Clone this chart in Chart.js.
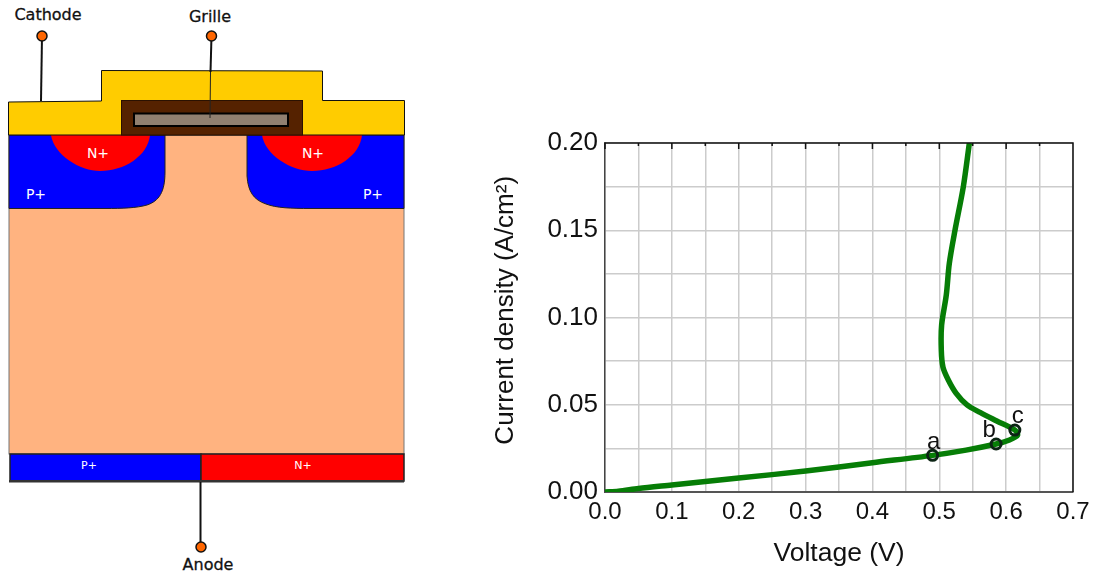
<!DOCTYPE html>
<html>
<head>
<meta charset="utf-8">
<title>Courbe courant-tension</title>
<script src="https://cdn.jsdelivr.net/npm/chart.js@4"></script>
<style>
    html, body { margin: 0; padding: 0; background: #fff; overflow: hidden; }
    #device, #chart1 { position: absolute; left: 0; top: 0; }
    #device text { font-family: "DejaVu Sans", sans-serif; }
</style>
</head>
<body>
<!-- coupe du composant, a gauche -->
<svg id="device" width="1096" height="576" viewBox="0 0 1096 576">
    <rect x="9" y="135" width="395" height="319" fill="#ffb380" stroke="#777" stroke-width="1"/>
    <path d="M9,135 L165,135 L165,172 C165,192 159,201 147,205 C137,208 122,208.5 105,208.5 L9,208.5 Z" fill="#0000ff" stroke="#222" stroke-width="1"/>
    <path d="M404,135 L247,135 L247,176 C248,192 254,200 266,204 C276,208 292,208.5 310,208.5 L404,208.5 Z" fill="#0000ff" stroke="#222" stroke-width="1"/>
    <path d="M51,135 C54,155 80,171 100,171 C124,171 148,156 150,135 Z" fill="#ff0000"/>
    <path d="M262,135 C265,155 291,171 312,171 C336,171 360,156 362,135 Z" fill="#ff0000"/>
    <path d="M8.5,102 L101.5,101 L101.5,70.5 L322.5,71 L322.5,100.5 L404.5,100.5 L404.5,135 L8.5,135 Z" fill="#ffcc00" stroke="#111" stroke-width="1"/>
    <rect x="121.5" y="100.5" width="181" height="34.5" fill="#552200" stroke="#2b1100" stroke-width="1"/>
    <rect x="134" y="113.5" width="154" height="12.5" fill="#918070" stroke="#000" stroke-width="2"/>

    <rect x="10" y="454" width="191" height="27" fill="#0000ff" stroke="#222" stroke-width="1.5"/>
    <rect x="201" y="454" width="203" height="27" fill="#ff0000" stroke="#222" stroke-width="1.5"/>
    <rect x="9" y="480" width="395" height="2.5" fill="#333"/>

    <line x1="42" y1="36" x2="41" y2="101" stroke="#111" stroke-width="2"/>
    <line x1="211.5" y1="36" x2="210.5" y2="72" stroke="#111" stroke-width="2"/>
    <line x1="210.5" y1="72" x2="210" y2="118" stroke="#222" stroke-width="1"/>
    <line x1="200.5" y1="482" x2="200.5" y2="547" stroke="#111" stroke-width="2"/>
    <circle cx="42" cy="36" r="5" fill="#ff6600" stroke="#111" stroke-width="1.5"/>
    <circle cx="211.5" cy="36" r="5" fill="#ff6600" stroke="#111" stroke-width="1.5"/>
    <circle cx="201" cy="547" r="5" fill="#ff6600" stroke="#111" stroke-width="1.5"/>

    <text x="48" y="20" font-size="16" text-anchor="middle" fill="#111" stroke="#111" stroke-width="0.3">Cathode</text>
    <text x="210" y="22" font-size="16" text-anchor="middle" fill="#111" stroke="#111" stroke-width="0.3">Grille</text>
    <text x="208" y="570" font-size="16" text-anchor="middle" fill="#111" stroke="#111" stroke-width="0.3">Anode</text>
    <text x="98" y="158" font-size="14" text-anchor="middle" fill="#fff">N+</text>
    <text x="313" y="158" font-size="14" text-anchor="middle" fill="#fff">N+</text>
    <text x="36" y="199" font-size="14" text-anchor="middle" fill="#fff">P+</text>
    <text x="373" y="199" font-size="14" text-anchor="middle" fill="#fff">P+</text>
    <text x="89" y="469" font-size="11" text-anchor="middle" fill="#fff">P+</text>
    <text x="303" y="469" font-size="11" text-anchor="middle" fill="#fff">N+</text>
</svg>

<canvas id="chart1" width="1096" height="576"></canvas>

<script>
const voltage = [0, 0.02, 0.05, 0.1, 0.2, 0.3, 0.4, 0.49, 0.54, 0.585, 0.605, 0.617, 0.613, 0.586, 0.561, 0.5415, 0.525, 0.5135, 0.5055, 0.503, 0.5035, 0.5105, 0.515, 0.5235, 0.536, 0.545];
const current = [0, 0.0004, 0.002, 0.004, 0.008, 0.012, 0.0168, 0.021, 0.024, 0.0275, 0.0298, 0.0325, 0.0355, 0.0407, 0.0456, 0.0499, 0.0567, 0.0642, 0.0716, 0.0814, 0.0957, 0.113, 0.131, 0.15, 0.175, 0.2];

const pointNames = ["a", "b", "c"];
const pointVoltage = [0.49, 0.585, 0.613];
const pointCurrent = [0.021, 0.0275, 0.0355];

const xTicksMax = 0.7;
const yTicksMax = 0.2;

// lettres a, b, c + cadre du graphe
const extras = {
    id: "extras",
    afterDraw(chart) {
        const ctx = chart.ctx;
        const area = chart.chartArea;
        const x = chart.scales.x;
        const y = chart.scales.y;

        ctx.save();
        ctx.strokeStyle = "#111";
        ctx.lineWidth = 1.5;
        ctx.beginPath();
        ctx.moveTo(area.left, area.top);
        ctx.lineTo(area.right, area.top);
        ctx.lineTo(area.right, area.bottom);
        x.ticks.forEach((t, i) => {
            const px = x.getPixelForValue(t.value);
            ctx.moveTo(px, area.top);
            ctx.lineTo(px, area.top + (i % 2 == 0 ? 6 : 3));
        });
        ctx.stroke();

        ctx.font = "24px 'Liberation Sans'";
        ctx.fillStyle = "#111";
        ctx.textAlign = "center";
        const shift = [[1, -6], [-7, -7], [3, -7]];
        pointNames.forEach((name, i) => {
            ctx.fillText(
                name,
                x.getPixelForValue(pointVoltage[i]) + shift[i][0],
                y.getPixelForValue(pointCurrent[i]) + shift[i][1]
            );
        });
        ctx.restore();
    },
};

new Chart(document.getElementById("chart1").getContext("2d"), {
    type: "scatter",
    data: {
        datasets: [
            {
                label: "Points",
                data: pointVoltage.map((v, i) => ({ x: v, y: pointCurrent[i] })),
                showLine: false,
                pointRadius: 5,
                pointBorderWidth: 3,
                pointBorderColor: "#0c2414",
                pointBackgroundColor: "rgba(0, 0, 0, 0)",
                order: 0,
            },
            {
                label: "Courbe",
                data: voltage.map((v, i) => ({ x: v, y: current[i] })),
                showLine: true,
                borderColor: "#067d06",
                borderWidth: 5.5,
                tension: 0.3,
                pointRadius: 0,
                order: 1,
            },
        ],
    },
    plugins: [extras],
    options: {
        responsive: false,
        animation: false,
        layout: {
            padding: { left: 490, right: 23, top: 143, bottom: 0 },
        },
        plugins: {
            legend: { display: false },
            tooltip: { enabled: false },
        },
        scales: {
            x: {
                type: "linear",
                min: 0,
                max: xTicksMax,
                afterFit(scale) {
                    scale.height = 84;
                },
                grid: { color: "#cccccc", lineWidth: 1.5, drawTicks: false },
                border: { color: "#555", width: 2 },
                ticks: {
                    stepSize: 0.05,
                    autoSkip: false,
                    maxRotation: 0,
                    padding: 6,
                    color: "#111",
                    font: { family: "'Liberation Sans'", size: 24 },
                    callback: (v) => {
                        const n = Math.round(v * 100);
                        return n % 10 == 0 ? (n / 100).toFixed(1) : "";
                    },
                },
                title: {
                    display: true,
                    text: "Voltage (V)",
                    color: "#111",
                    font: { family: "'Liberation Sans'", size: 26.5 },
                    padding: { top: 0, bottom: 6 },
                },
            },
            y: {
                type: "linear",
                min: 0,
                max: yTicksMax,
                afterFit(scale) {
                    scale.width = 115;
                },
                grid: { color: "#cccccc", lineWidth: 1.5, drawTicks: false },
                border: { color: "#444", width: 1.5 },
                ticks: {
                    stepSize: 0.025,
                    autoSkip: false,
                    padding: 7,
                    color: "#111",
                    font: { family: "'Liberation Sans'", size: 26 },
                    callback: (v) => {
                        const n = Math.round(v * 1000);
                        return n % 50 == 0 ? (n / 1000).toFixed(2) : "";
                    },
                },
                title: {
                    display: true,
                    text: "  Current density (A/cm²)",
                    color: "#111",
                    font: { family: "'Liberation Sans'", size: 26 },
                    padding: { top: 0, bottom: 2 },
                },
            },
        },
    },
});
</script>
</body>
</html>
